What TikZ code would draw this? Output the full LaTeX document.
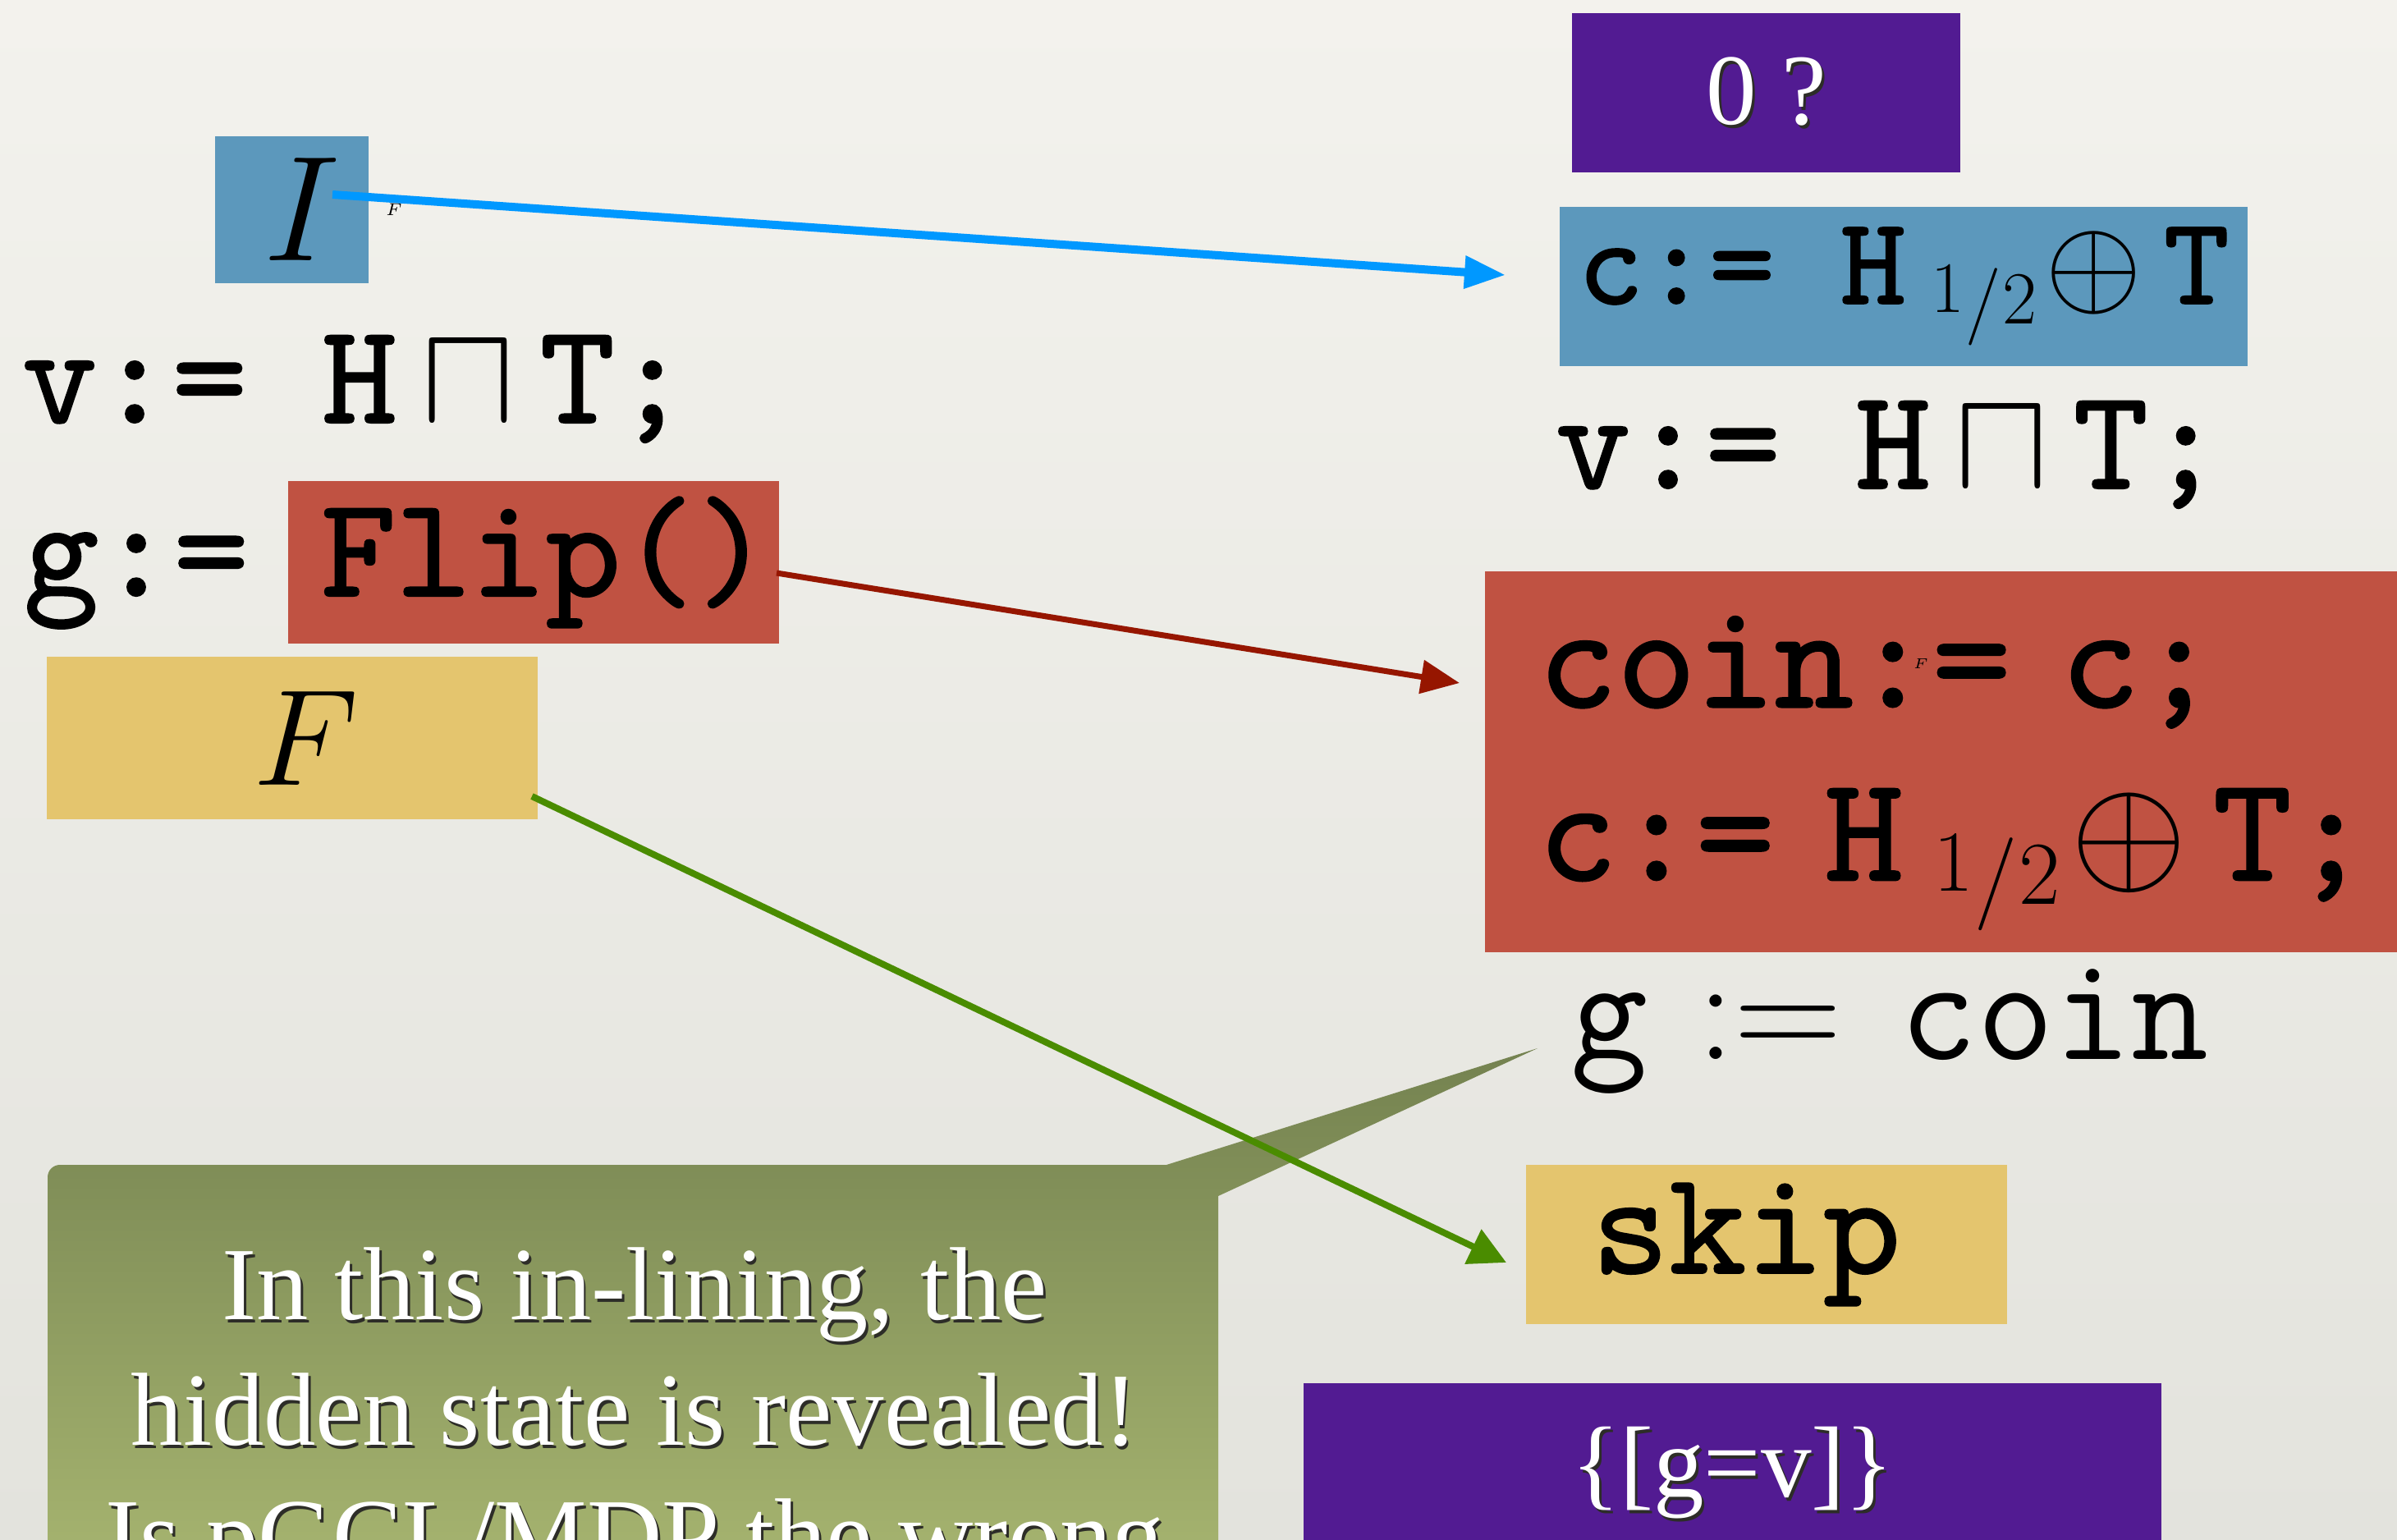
\RequirePackage{fix-cm}
\documentclass[tikz,border=0pt]{standalone}
\usepackage{fontspec}
\usepackage{graphicx}
\usepackage{xcolor}
\usepackage{tikz}
\usetikzlibrary{arrows.meta, positioning, calc}
\newfontfamily\serifface{Liberation Serif}
\newfontfamily\codefont{lmmono10-regular.otf}[FakeBold=1.2]
\definecolor{paperTop}{RGB}{243,242,237}
\definecolor{paperBot}{RGB}{227,227,221}
\definecolor{boxblue}{RGB}{92,152,188}
\definecolor{boxred}{RGB}{192,82,66}
\definecolor{boxyellow}{RGB}{228,197,110}
\definecolor{boxpurple}{RGB}{82,27,146}
\definecolor{arrblue}{RGB}{0,152,255}
\definecolor{arrred}{RGB}{150,22,0}
\definecolor{arrgreen}{RGB}{74,140,0}
\definecolor{noteTop}{RGB}{116,130,80}
\definecolor{noteBot}{RGB}{170,184,114}
\definecolor{shadowc}{RGB}{45,45,40}
\newcommand{\dropsh}[1]{\makebox[0pt][l]{\kern0.03cm\raisebox{-0.04cm}{\textcolor{shadowc}{#1}}}#1}
\newcommand{\half}{\raisebox{-0.07em}{\scalebox{0.58}{$1$}}\kern0.01em\raisebox{-0.18em}{\scalebox{0.62}{$/$}}\kern0.01em\raisebox{-0.16em}{\scalebox{0.6}{$2$}}}
\newcommand{\coinflip}{\hspace{0.2em}\half\hspace{0.07em}$\oplus$\hspace{0.17em}}

\begin{document}
\begin{tikzpicture}[
        box/.style={rectangle, inner sep=0pt, outer sep=0pt, align=center},
        bluebox/.style={box, fill=boxblue},
        redbox/.style={box, fill=boxred},
        yellowbox/.style={box, fill=boxyellow},
        purplebox/.style={box, fill=boxpurple, text=white, font=\serifface\fontsize{35}{42}\selectfont},
        code/.style={inner sep=0pt, outer sep=0pt, font=\codefont\fontsize{49.5}{60}\selectfont},
        speck/.style={inner sep=0pt, font=\fontsize{6}{7}\selectfont},
        bluearrow/.style={-{Triangle[length=0.5cm,width=0.38cm]}, line width=0.1cm, arrblue},
        redarrow/.style={-{Triangle[length=0.47cm,width=0.4cm]}, line width=0.07cm, arrred},
        greenarrow/.style={-{Triangle[length=0.45cm,width=0.45cm]}, line width=0.08cm, arrgreen}
    ]
        \useasboundingbox (0,0) rectangle (29.2,-18.76);
        \clip (0,0) rectangle (29.2,-18.76);
        \path[top color=paperTop, bottom color=paperBot] (0,0) rectangle (29.2,-18.76);

        \node[bluebox, minimum width=1.87cm, minimum height=1.79cm, font=\fontsize{52}{60}\selectfont] (ibox) at (3.555,-2.555) {\hspace{0.26cm}$I$};
        \node[speck] (ftiny) at (4.80,-2.55) {$F$};
        \node[code, anchor=base west] (vleft) at (0.27,-5.15) {v:= H$\,\sqcap\,$T;};
        \node[redbox, code, minimum width=5.98cm, minimum height=1.98cm] (flipbox) at (6.50,-6.85) {\hspace{0.3cm}Flip()};
        \node[code, left=0.48cm of flipbox.base west, anchor=base east] (gleft) {g:=};
        \node[yellowbox, minimum width=5.98cm, minimum height=1.98cm, font=\fontsize{47.5}{55}\selectfont] (fbox) at (3.56,-8.99) {\hspace{0.34cm}$F$};

        \node[purplebox, minimum width=4.73cm, minimum height=1.94cm] (zerobox) at (21.515,-1.13) {\dropsh{0 ?}};
        \node[bluebox, code, minimum width=8.38cm, minimum height=1.94cm, font=\codefont\fontsize{43.3}{50}\selectfont] (cbox) at (23.19,-3.49) {c:= H\coinflip T};
        \node[code, anchor=base west] (vright) at (18.95,-5.95) {v:= H$\,\sqcap\,$T;};
        \node[redbox, code, anchor=west, minimum height=4.64cm, text width=11cm, inner xsep=0.65cm, align=left, font=\codefont\fontsize{52}{60}\selectfont] (coinbox) at (18.09,-9.28) {\rule{0pt}{0.76em}coin:= c;\\c:= H\coinflip T;};
        \node[speck, font=\fontsize{5}{6}\selectfont] (ftinyb) at (23.40,-8.08) {$F$};
        \node[code, anchor=base west, font=\ttfamily\fontsize{52}{60}\selectfont] (gcoin) at (19.13,-12.90) {g\hspace{0.33em}$:=$\hspace{0.38em}coin};
        \node[yellowbox, code, minimum width=5.86cm, minimum height=1.94cm, text width=4.26cm, inner xsep=0.8cm, align=left, font=\codefont\fontsize{51}{60}\selectfont] (skipbox) at (21.52,-15.16) {skip};
        \node[purplebox, minimum width=10.45cm, minimum height=2.22cm] (postbox) at (21.105,-17.96) {\dropsh{\{[g=v]\}}};

        \path[top color=noteTop, bottom color=noteBot] (0.58,-19.6) -- (0.58,-14.34) arc[start angle=180, end angle=90, radius=0.15] -- (14.21,-14.19) -- ([xshift=-0.4cm,yshift=0.13cm]gcoin.base west) -- (14.84,-14.57) -- (14.84,-19.6) -- cycle;
        \node[font=\serifface\fontsize{36}{43.5}\selectfont, text=white, align=center, anchor=north, inner sep=0pt] (note) at (7.73,-15.19) {\dropsh{In this in-lining, the}\\\dropsh{hidden state is revealed!}\\\dropsh{Is pGCL/MDP the wrong}};

        \draw[bluearrow] ([xshift=0.495cm,yshift=0.185cm]ibox.center) -- ([xshift=-0.66cm,yshift=0.14cm]cbox.west);
        \draw[redarrow] ([xshift=-0.03cm,yshift=-0.13cm]flipbox.east) -- ([xshift=-0.31cm,yshift=0.96cm]coinbox.west);
        \draw[greenarrow] ([xshift=-0.07cm,yshift=0.28cm]fbox.south east) -- ([xshift=-0.24cm,yshift=-0.22cm]skipbox.west);
    \end{tikzpicture}
\end{document}
